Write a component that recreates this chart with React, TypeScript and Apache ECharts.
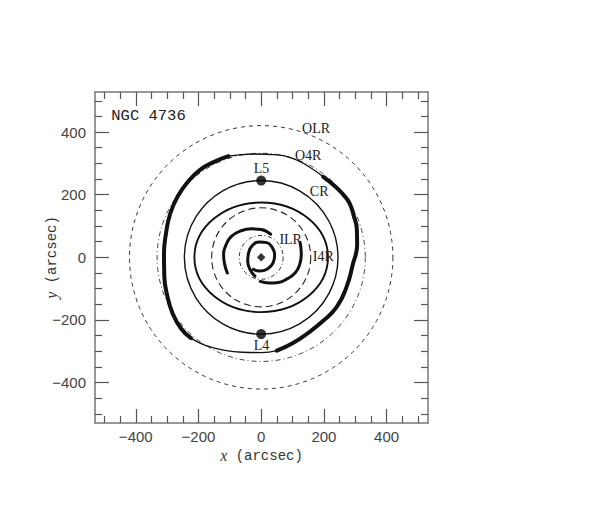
import React, { useEffect, useRef } from 'react';
import * as echarts from 'echarts';

// axis ranges (arcsec)
const xRange = [-530, 532];
const yRange = [-529, 528];
const majorTicks = [-400, -200, 0, 200, 400];
const minorTicks = [-500, -450, -350, -300, -250, -150, -100, -50, 50, 100, 150, 250, 300, 350, 450, 500];

// resonance circles (radius in arcsec)
const resonanceNames = ['ILR', 'I4R', 'CR', 'O4R', 'OLR'];
const resonanceRadii = [70, 158, 245, 332, 420];

// elongated closed orbit between I4R and CR (semi-axes in arcsec)
const midOrbitSemiAxes = [213, 175];

// outer orbit, in four pieces (thick / thin)
const outerThinTop = [[198, 257], [150, 291], [100, 316], [40, 328], [-20, 330], [-65, 328], [-104, 323]];
const outerThickLeft = [[-104, 323], [-150, 305], [-194, 280], [-235, 240], [-266, 195], [-290, 140], [-303, 80], [-310, 10], [-309, -60], [-300, -120], [-282, -180], [-255, -228], [-224, -258]];
const outerThinBottom = [[-224, -258], [-180, -280], [-120, -296], [-60, -303], [0, -304], [50, -298]];
const outerThickRight = [[50, -298], [100, -274], [146, -244], [195, -205], [241, -158], [272, -95], [293, -20], [306, 40], [305, 90], [296, 130], [282, 172], [262, 200], [238, 225], [198, 257]];

// inner bar orbit (two arcs)
const barArcLeft = [[30, 74], [0, 89], [-30, 91], [-64, 85], [-96, 66], [-114, 35], [-120, 10], [-117, -20], [-108, -50]];
const barArcRight = [[124, 48], [128, 10], [122, -25], [108, -50], [84, -68], [55, -80], [25, -82], [-3, -77]];

// innermost spiral orbit
const innerSpiral = [[-20, -60], [-35, -40], [-43, -12], [-40, 15], [-28, 38], [-5, 49], [18, 47], [35, 32], [43, 8], [38, -18], [20, -37], [-5, -44], [-25, -38]];

// Lagrange points
const lagrangeX = [0, 0];
const lagrangeY = [245, -245];

// text annotations (arcsec)
const labelNames = ['OLR', 'O4R', 'L5', 'CR', 'ILR', 'I4R', 'L4'];
const labelX = [175, 150, 1, 185, 94, 198, 1];
const labelY = [413, 326, 283, 209, 58, 2, -280];
const titleText = 'NGC 4736';
const titlePos = [-478, 451];

const fmt = (v: number) => (v < 0 ? '\u2212' + Math.abs(v) : String(v));

const circleStyle: Record<string, any> = {
  ILR: { lineDash: [4, 2.5, 1, 2.5], lineWidth: 1, stroke: '#333' },
  I4R: { lineDash: [7, 4], lineWidth: 1.1, stroke: '#222' },
  CR: { lineDash: null, lineWidth: 1.4, stroke: '#111' },
  O4R: { lineDash: [5, 3, 1, 3], lineWidth: 1, stroke: '#444' },
  OLR: { lineDash: [4, 4], lineWidth: 1, stroke: '#333' },
};

const nameStyle = {
  fontFamily: 'Liberation Mono', fontSize: 14, color: '#333', lineHeight: 15,
  rich: { i: { fontFamily: 'Liberation Serif', fontStyle: 'italic', fontSize: 16, color: '#333', lineHeight: 15 } },
};

function makeX(position: string, ticks: number[], len: number, showLabel: boolean, showLine: boolean) {
  return {
    type: 'value', gridIndex: 0, position, min: xRange[0], max: xRange[1],
    axisLine: { show: showLine, onZero: false, lineStyle: { color: '#777', width: 1.5 } },
    axisTick: { show: true, inside: true, length: len, customValues: ticks, lineStyle: { color: '#555', width: 1.2 } },
    axisLabel: showLabel
      ? { show: true, customValues: ticks, formatter: fmt, margin: 7, lineHeight: 13, fontFamily: 'Liberation Sans', fontSize: 15, color: '#444' }
      : { show: false },
    splitLine: { show: false },
    ...(showLabel
      ? { name: '{i|x} (arcsec)', nameLocation: 'middle', nameGap: 25, nameMoveOverlap: false, nameTextStyle: nameStyle }
      : {}),
  };
}
function makeY(position: string, ticks: number[], len: number, showLabel: boolean, showLine: boolean) {
  return {
    type: 'value', gridIndex: 0, position, min: yRange[0], max: yRange[1],
    axisLine: { show: showLine, onZero: false, lineStyle: { color: '#777', width: 1.5 } },
    axisTick: { show: true, inside: true, length: len, customValues: ticks, lineStyle: { color: '#555', width: 1.2 } },
    axisLabel: showLabel
      ? { show: true, customValues: ticks, formatter: fmt, margin: 9, fontFamily: 'Liberation Sans', fontSize: 15, color: '#444' }
      : { show: false },
    splitLine: { show: false },
    ...(showLabel
      ? { name: '{i|y} (arcsec)', nameLocation: 'middle', nameGap: 36, nameRotate: 90, nameMoveOverlap: false, nameTextStyle: nameStyle }
      : {}),
  };
}

function orbitLine(data: number[][], width: number) {
  return {
    type: 'line', data, smooth: 0.5, showSymbol: false, silent: true, clip: false,
    lineStyle: { color: '#111', width, cap: 'round' },
  };
}

function textSeries(data: any[], font: string, size: number, align: string) {
  return {
    type: 'custom', silent: true, clip: false,
    data,
    renderItem: (p: any, api: any) => {
      const pt = api.coord([api.value(0), api.value(1)]);
      return {
        type: 'text', x: pt[0], y: pt[1],
        style: {
          text: data[p.dataIndex].name, fill: '#222', fontFamily: font, fontSize: size,
          align, verticalAlign: 'middle',
        },
      };
    },
  };
}

export default function App() {
  const ref = useRef<HTMLDivElement>(null);
  useEffect(() => {
    if (!ref.current) return;
    const chart = echarts.init(ref.current, undefined, { renderer: 'svg' });
    const circleSeries = resonanceNames.map((name, i) => ({
      type: 'custom', name, silent: true, clip: false,
      data: [[resonanceRadii[i], 0]],
      renderItem: (_p: any, api: any) => {
        const c = api.coord([0, 0]);
        const r = api.size([api.value(0), 0])[0];
        const st = circleStyle[name];
        return {
          type: 'circle', shape: { cx: c[0], cy: c[1], r },
          style: { fill: 'none', stroke: st.stroke, lineWidth: st.lineWidth, lineDash: st.lineDash },
        };
      },
    }));
    const option: any = {
      animation: false,
      backgroundColor: '#fff',
      grid: { left: 95, top: 92, width: 333, height: 331, outerBoundsMode: 'none' },
      xAxis: [
        makeX('bottom', majorTicks, 14, true, true),
        makeX('bottom', minorTicks, 7, false, false),
        makeX('top', majorTicks, 14, false, true),
        makeX('top', minorTicks, 7, false, false),
      ],
      yAxis: [
        makeY('left', majorTicks, 14, true, true),
        makeY('left', minorTicks, 7, false, false),
        makeY('right', majorTicks, 14, false, true),
        makeY('right', minorTicks, 7, false, false),
      ],
      series: [
        ...circleSeries,
        {
          type: 'custom', name: 'midOrbit', silent: true, clip: false,
          data: [[midOrbitSemiAxes[0], midOrbitSemiAxes[1]]],
          renderItem: (_p: any, api: any) => {
            const c = api.coord([0, 0]);
            const rx = api.size([api.value(0), 0])[0];
            const ry = api.size([0, api.value(1)])[1];
            return {
              type: 'ellipse', shape: { cx: c[0], cy: c[1], rx, ry },
              style: { fill: 'none', stroke: '#111', lineWidth: 1.9 },
            };
          },
        },
        orbitLine(outerThinTop, 1.3),
        orbitLine(outerThickLeft, 4),
        orbitLine(outerThinBottom, 1.3),
        orbitLine(outerThickRight, 4),
        orbitLine(barArcLeft, 3),
        orbitLine(barArcRight, 3),
        orbitLine(innerSpiral, 3),
        {
          type: 'scatter', silent: true, symbol: 'circle', symbolSize: 10,
          itemStyle: { color: '#000' },
          data: lagrangeX.map((x, i) => [x, lagrangeY[i]]),
        },
        {
          type: 'scatter', silent: true, symbol: 'rect', symbolSize: 6, symbolRotate: 45,
          itemStyle: { color: '#000' },
          data: [[0, 0]],
        },
        textSeries(labelNames.map((n, i) => ({ name: n, value: [labelX[i], labelY[i]] })), 'Liberation Serif', 14, 'center'),
        textSeries([{ name: titleText, value: titlePos }], 'Liberation Mono', 15.5, 'left'),
      ],
    };
    chart.setOption(option);
    return () => chart.dispose();
  }, []);
  return <div ref={ref} style={{ position: 'absolute', left: 0, top: 0, width: 598, height: 506, background: '#fff' }} />;
}
